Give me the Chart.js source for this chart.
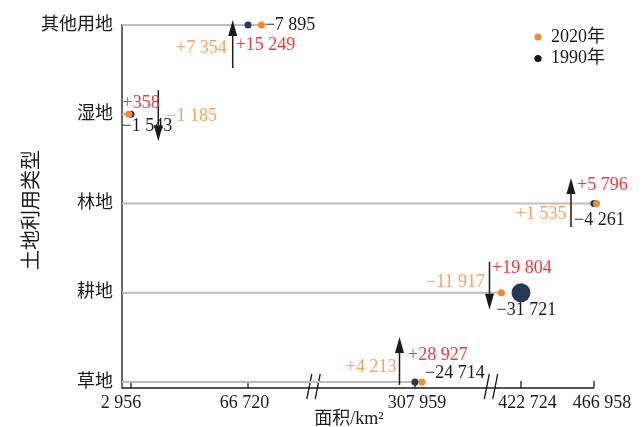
<!DOCTYPE html>
<html>
<head>
<meta charset="utf-8">
<script src="https://cdn.jsdelivr.net/npm/chart.js@4.4.1/dist/chart.umd.min.js"></script>
<style>
    html, body { margin: 0; background: #fff; }
    #wrap { width: 644px; height: 427px; position: relative; }
</style>
</head>
<body>
<div id="wrap"><canvas id="landChart"></canvas></div>
<script>
/* =========================
   DATA
========================= */

const categories = ['草地', '耕地', '林地', '湿地', '其他用地'];
const area1990 = [307959, 422724, 466958, 2956, 66720];
const area2020 = [312172, 410807, 468493, 1771, 74074];
const gains = [28927, 19804, 5796, 358, 15249];
const losses = [24714, 31721, 4261, 1543, 7895];
const xTickValues = [2956, 66720, 307959, 422724, 466958];
const legendLabels = ['2020年', '1990年'];

/* =========================
   STYLE / LAYOUT
========================= */

const ORANGE = '#f28a33';
const NAVY = '#243a56';
const RED = '#ec3a3c';
const ORANGE_TXT = '#f4a263';
const INK = '#1a1a1a';
const FONT = '"Liberation Serif", "Noto Sans CJK SC", serif';

const radius1990 = [3.6, 9.5, 3.6, 3.6, 3.6];
const tickDx = [-10, -3.5, 2, 6.5, 8];

// broken x axis: each piece maps a value range onto axis pixels
const segments = [
    { from: -5000, to: 150000, anchor: 2956, px: 9, k: 0.0018349 },
    { from: 150000, to: 375000, anchor: 307959, px: 293, k: 0.00165 },
    { from: 375000, to: 500000, anchor: 422724, px: 399, k: 0.00165 }
];
const axisBreaks = [191.5, 369];

// annotation layout, pixel offsets from the arrow / category line
const notes = [
    { arrowDx: -15.5, top: -45, bottom: 3, gain: [8.5, -27, 'left'], net: [-3, -15, 'right'], loss: [25.5, -9, 'left'] },
    { arrowDx: -31.5, top: -31, bottom: 17, gain: [2.5, -24, 'left'], net: [-4.5, -10, 'right'], loss: [7, 18, 'left'] },
    { arrowDx: -23, top: -25.5, bottom: 23.5, gain: [6, -18.5, 'left'], net: [-4.5, 10.5, 'right'], loss: [3, 17, 'left'] },
    { arrowDx: 27.3, top: -24, bottom: 27, gain: [-35.8, -11, 'left'], net: [8, 2, 'left'], loss: [-36.8, 12.5, 'left'] },
    { arrowDx: -15.3, top: -5, bottom: 43, gain: [3, 20, 'left'], net: [-6, 23, 'right'], loss: [32, 0, 'left'] }
];

function toAxis(v){
    const s = segments.find(s => v >= s.from && v < s.to) || segments[segments.length - 1];
    return s.px + (v - s.anchor) * s.k;
}

function fromAxis(u){
    const s = segments[0];
    return s.anchor + (u - s.px) / s.k;
}

function fmt(v){
    return String(Math.abs(v)).replace(/\B(?=(\d{3})+(?!\d))/g, ' ');
}

/* =========================
   BROKEN SCALE
========================= */

class BrokenScale extends Chart.LinearScale {
    getPixelForValue(value){
        return super.getPixelForValue(toAxis(value));
    }
    getPixelForAxis(u){
        return Chart.LinearScale.prototype.getPixelForValue.call(this, u);
    }
}
BrokenScale.id = 'broken';
BrokenScale.defaults = {};
Chart.register(BrokenScale);

/* =========================
   AXES + LEGEND PLUGIN
========================= */

const axesPlugin = {
    id: 'axesPlugin',
    beforeDatasetsDraw(chart){
        const ctx = chart.ctx;
        const { left, right, top, bottom } = chart.chartArea;
        const xs = chart.scales.x;
        const ys = chart.scales.y;

        ctx.save();
        ctx.strokeStyle = INK;
        ctx.lineWidth = 1.3;

        ctx.beginPath();
        ctx.moveTo(left, top - 1);
        ctx.lineTo(left, bottom);
        ctx.lineTo(right, bottom);
        ctx.stroke();

        // inward ticks
        categories.forEach((c, i) => {
            const y = ys.getPixelForValue(i);
            ctx.beginPath();
            ctx.moveTo(left, y);
            ctx.lineTo(left + 5, y);
            ctx.stroke();
        });

        xTickValues.forEach(v => {
            const x = xs.getPixelForValue(v);
            ctx.beginPath();
            ctx.moveTo(x, bottom);
            ctx.lineTo(x, bottom - 7);
            ctx.stroke();
        });

        // break marks
        axisBreaks.forEach(u => {
            const x = xs.getPixelForAxis(u);
            [-4.2, 4.2].forEach(d => {
                ctx.beginPath();
                ctx.moveTo(x + d - 2.5, bottom + 11);
                ctx.lineTo(x + d + 2.5, bottom - 14);
                ctx.stroke();
            });
        });

        // tick labels
        ctx.fillStyle = INK;
        ctx.font = '18px ' + FONT;
        ctx.textAlign = 'center';
        ctx.textBaseline = 'middle';
        xTickValues.forEach((v, i) => {
            ctx.fillText(fmt(v), xs.getPixelForValue(v) + tickDx[i], bottom + 15);
        });

        ctx.font = '18px ' + FONT;
        ctx.textAlign = 'right';
        categories.forEach((c, i) => {
            ctx.fillText(c, left - 9, ys.getPixelForValue(i));
        });

        // titles
        ctx.textAlign = 'center';
        ctx.fillText('面积/km²', 349, 419);

        ctx.save();
        ctx.font = '20px ' + FONT;
        ctx.translate(33, 210);
        ctx.rotate(-Math.PI / 2);
        ctx.fillText('土地利用类型', 0, 0);
        ctx.restore();

        // legend
        const legendColors = [ORANGE, '#111111'];
        ctx.font = '18px ' + FONT;
        ctx.textAlign = 'left';
        legendLabels.forEach((label, i) => {
            const y = 37 + i * 21.5;
            ctx.fillStyle = legendColors[i];
            ctx.beginPath();
            ctx.arc(538, y, 3.6, 0, Math.PI * 2);
            ctx.fill();
            ctx.fillStyle = INK;
            ctx.fillText(label, 551, y);
        });

        ctx.restore();
    }
};

/* =========================
   ARROWS + CHANGE LABELS
========================= */

function drawArrow(ctx, x, yTail, yTip){
    const dir = Math.sign(yTip - yTail);
    const head = 16;
    const hw = 4.5;

    ctx.beginPath();
    ctx.moveTo(x, yTail);
    ctx.lineTo(x, yTip - dir * head);
    ctx.stroke();

    ctx.beginPath();
    ctx.moveTo(x, yTip);
    ctx.lineTo(x - hw, yTip - dir * head);
    ctx.lineTo(x + hw, yTip - dir * head);
    ctx.closePath();
    ctx.fill();
}

const notesPlugin = {
    id: 'notesPlugin',
    afterDatasetsDraw(chart){
        const ctx = chart.ctx;
        const xs = chart.scales.x;
        const ys = chart.scales.y;

        ctx.save();
        ctx.strokeStyle = INK;
        ctx.fillStyle = INK;
        ctx.lineWidth = 1.5;
        ctx.font = '18px ' + FONT;
        ctx.textBaseline = 'middle';

        categories.forEach((c, i) => {
            const n = notes[i];
            const ly = ys.getPixelForValue(i);
            const ax = xs.getPixelForValue(area1990[i]) + n.arrowDx;
            const net = gains[i] - losses[i];

            if(net > 0){
                drawArrow(ctx, ax, ly + n.bottom, ly + n.top);
            }else{
                drawArrow(ctx, ax, ly + n.top, ly + n.bottom);
            }

            const texts = [
                [n.gain, '+' + fmt(gains[i]), RED],
                [n.net, (net > 0 ? '+' : '−') + fmt(net), ORANGE_TXT],
                [n.loss, '−' + fmt(losses[i]), INK]
            ];

            texts.forEach(t => {
                ctx.fillStyle = t[2];
                ctx.textAlign = t[0][2];
                ctx.fillText(t[1], ax + t[0][0], ly + t[0][1]);
            });
            ctx.fillStyle = INK;
        });

        ctx.restore();
    }
};

/* =========================
   CHART
========================= */

const lineStart = fromAxis(0);

new Chart(document.getElementById('landChart'), {
    type: 'scatter',

    data: {
        datasets: [
            {
                label: legendLabels[0],
                data: area2020.map((v, i) => ({ x: v, y: i })),
                backgroundColor: ORANGE,
                borderWidth: 0,
                pointRadius: 3.6,
                clip: false
            },
            {
                label: legendLabels[1],
                data: area1990.map((v, i) => ({ x: v, y: i })),
                backgroundColor: NAVY,
                borderWidth: 0,
                pointRadius: radius1990,
                clip: false
            },
            ...categories.map((c, i) => ({
                label: c,
                data: [{ x: lineStart, y: i }, { x: area2020[i], y: i }],
                showLine: true,
                borderColor: '#bdbdbd',
                borderWidth: 2,
                pointRadius: 0,
                clip: false
            }))
        ]
    },

    options: {
        responsive: true,
        maintainAspectRatio: false,
        animation: false,
        events: [],

        layout: {
            autoPadding: false,
            padding: { left: 122, right: 50, top: 25, bottom: 39 }
        },

        plugins: {
            legend: { display: false },
            tooltip: { enabled: false }
        },

        scales: {
            x: { type: 'broken', min: 0, max: 472, display: false },
            y: { type: 'linear', min: -0.0672, max: 4, display: false }
        }
    },

    plugins: [axesPlugin, notesPlugin]
});
</script>
</body>
</html>
